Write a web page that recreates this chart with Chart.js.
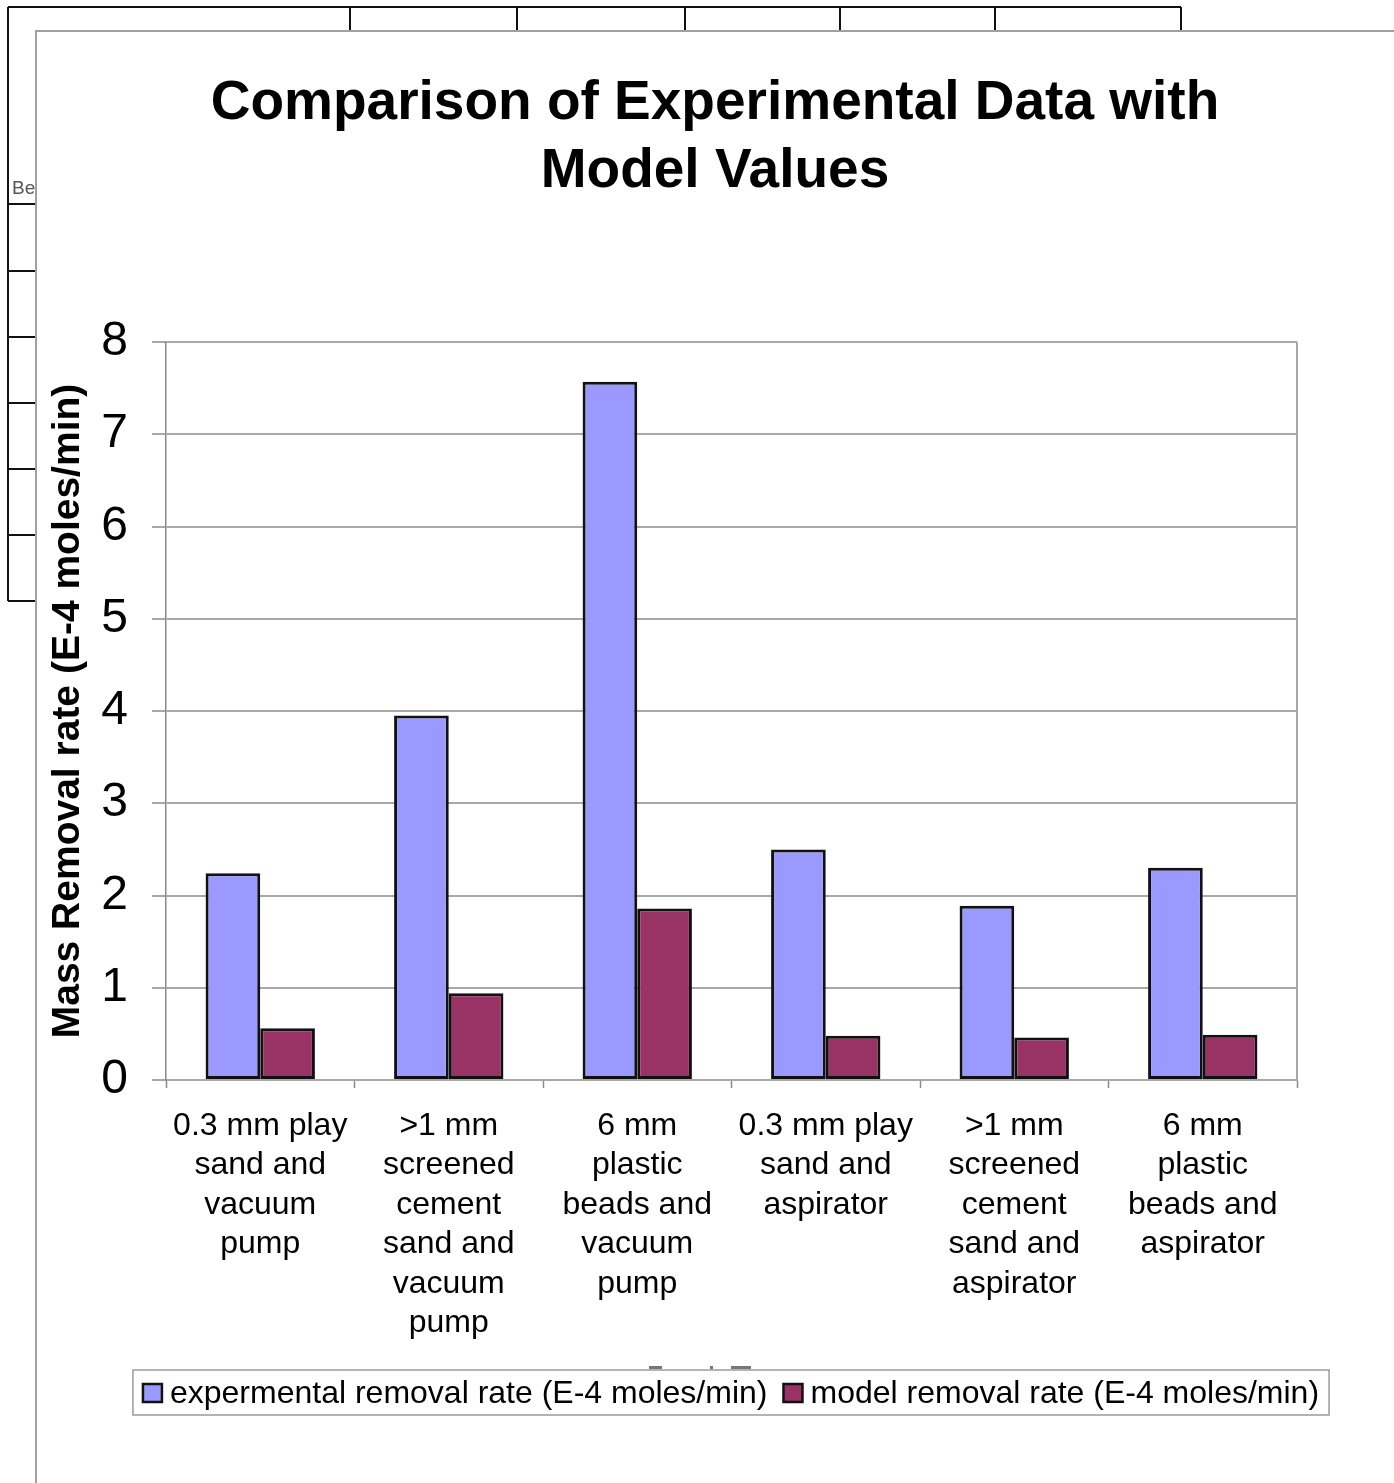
<!DOCTYPE html>
<html>
<head>
<meta charset="utf-8">
<script src="https://cdn.jsdelivr.net/npm/chart.js@4.4.1/dist/chart.umd.min.js"></script>
<style>
  html, body { margin: 0; padding: 0; background: #fff; overflow: hidden; }
  #wrap { position: absolute; left: 0; top: 0; width: 1394px; height: 1483px; }
</style>
</head>
<body>
<div id="wrap"><canvas id="c" width="1394" height="1483"></canvas></div>
<script>
// Category labels (one line per array entry)
const categories = [
  ['0.3 mm play', 'sand and', 'vacuum', 'pump'],
  ['>1 mm', 'screened', 'cement', 'sand and', 'vacuum', 'pump'],
  ['6 mm', 'plastic', 'beads and', 'vacuum', 'pump'],
  ['0.3 mm play', 'sand and', 'aspirator'],
  ['>1 mm', 'screened', 'cement', 'sand and', 'aspirator'],
  ['6 mm', 'plastic', 'beads and', 'aspirator']
];
// Removal rates, E-4 moles/min
const experimentalRate = [2.24, 3.95, 7.57, 2.50, 1.89, 2.30];
const modelRate = [0.56, 0.94, 1.86, 0.48, 0.46, 0.49];
const yTickValues = [0, 1, 2, 3, 4, 5, 6, 7, 8];
const titleLines = ['Comparison of Experimental Data with', 'Model Values'];
const seriesNames = ['expermental removal rate (E-4 moles/min)', 'model removal rate (E-4 moles/min)'];
const yTitle = 'Mass Removal rate (E-4 moles/min)';

const FONT = '"Liberation Sans", Arial, Helvetica, sans-serif';
const EXP_COLOR = '#9999FF';
const MODEL_COLOR = '#993366';
const GRID = '#a8a8a8';
const AXIS = '#8a8a8a';

// Worksheet cells behind the chart object, and the chart object frame
const sheetBackdrop = {
  id: 'sheetBackdrop',
  beforeDraw(chart) {
    const ctx = chart.ctx;
    ctx.save();
    ctx.fillStyle = '#fff';
    ctx.fillRect(0, 0, chart.width, chart.height);
    ctx.strokeStyle = '#111';
    ctx.lineWidth = 2;
    ctx.beginPath();
    ctx.moveTo(8, 7); ctx.lineTo(1181, 7);
    ctx.moveTo(8, 7); ctx.lineTo(8, 601);
    [350, 517, 685, 840, 995, 1181].forEach(x => { ctx.moveTo(x, 7); ctx.lineTo(x, 31); });
    [204, 271, 337, 403, 469, 535, 601].forEach(y => { ctx.moveTo(8, y); ctx.lineTo(36, y); });
    ctx.stroke();
    ctx.fillStyle = '#555';
    ctx.font = '19px ' + FONT;
    ctx.textBaseline = 'middle';
    ctx.fillText('Be', 12, 189);
    // chart object
    ctx.fillStyle = '#fff';
    ctx.fillRect(36, 31, chart.width, chart.height);
    ctx.strokeStyle = '#a0a0a0';
    ctx.lineWidth = 2;
    ctx.beginPath();
    ctx.moveTo(36, chart.height); ctx.lineTo(36, 31); ctx.lineTo(chart.width, 31);
    ctx.stroke();
    // fragments of a worksheet caption peeking above the legend
    ctx.fillStyle = '#777';
    ctx.fillRect(649, 1366, 13, 3);
    ctx.fillRect(710, 1366, 3, 3);
    ctx.fillRect(731, 1366, 20, 3);
    ctx.restore();
  },
  beforeDatasetsDraw(chart) {
    const {ctx, chartArea} = chart;
    ctx.save();
    ctx.strokeStyle = GRID;
    ctx.lineWidth = 2;
    ctx.beginPath();
    ctx.moveTo(chartArea.right, chartArea.top);
    ctx.lineTo(chartArea.right, chartArea.bottom);
    ctx.stroke();
    ctx.restore();
  }
};

// Two-line heading and boxed legend
const headingAndKey = {
  id: 'headingAndKey',
  afterDraw(chart) {
    const ctx = chart.ctx;
    ctx.save();
    ctx.fillStyle = '#000';
    ctx.font = 'bold 55px ' + FONT;
    ctx.textAlign = 'center';
    ctx.textBaseline = 'middle';
    ctx.fillText(titleLines[0], 715, 104);
    ctx.fillText(titleLines[1], 715, 172);

    // legend
    ctx.font = '32px ' + FONT;
    ctx.textAlign = 'left';
    const sw = 19, gap = 8, between = 16, padX = 10;
    const items = chart.data.datasets.map(ds => ({
      label: ds.label, color: ds.backgroundColor, w: ctx.measureText(ds.label).width
    }));
    let total = 0;
    items.forEach((it, i) => { total += sw + gap + it.w + (i ? between : 0); });
    const cx = 731, cy = 1393;
    let x = cx - total / 2;
    ctx.strokeStyle = '#9a9a9a';
    ctx.lineWidth = 1.5;
    ctx.fillStyle = '#fff';
    ctx.fillRect(x - padX, 1370, total + padX * 2, 45);
    ctx.strokeRect(x - padX, 1370, total + padX * 2, 45);
    items.forEach((it, i) => {
      if (i) x += between;
      ctx.fillStyle = it.color;
      ctx.fillRect(x, cy - 9, sw, 18);
      ctx.strokeStyle = '#111';
      ctx.lineWidth = 2.5;
      ctx.strokeRect(x, cy - 9, sw, 18);
      x += sw + gap;
      ctx.fillStyle = '#000';
      ctx.fillText(it.label, x, cy + 1);
      x += it.w;
    });
    ctx.restore();
  }
};

new Chart(document.getElementById('c'), {
  type: 'bar',
  data: {
    labels: categories,
    datasets: [
      {
        label: seriesNames[0],
        data: experimentalRate,
        backgroundColor: EXP_COLOR,
        borderColor: '#111',
        borderWidth: 3,
        borderSkipped: false
      },
      {
        label: seriesNames[1],
        data: modelRate,
        backgroundColor: MODEL_COLOR,
        borderColor: '#111',
        borderWidth: 3,
        borderSkipped: false
      }
    ]
  },
  options: {
    responsive: false,
    animation: false,
    devicePixelRatio: 1,
    layout: { padding: { top: 342, left: 0, right: 97, bottom: 133 } },
    datasets: { bar: { categoryPercentage: 0.58, barPercentage: 1.0 } },
    plugins: {
      legend: { display: false },
      title: { display: false },
      tooltip: { enabled: false }
    },
    scales: {
      x: {
        type: 'category',
        offset: true,
        afterFit(scale) { scale.height = 270; },
        grid: {
          offset: true,
          drawOnChartArea: false,
          drawTicks: true,
          tickLength: 8,
          tickColor: AXIS,
          tickWidth: 1.5
        },
        border: { display: true, color: GRID, width: 2 },
        ticks: {
          color: '#000',
          font: { family: FONT, size: 32, lineHeight: 1.235 },
          padding: 18,
          maxRotation: 0,
          minRotation: 0,
          autoSkip: false
        }
      },
      y: {
        min: 0,
        max: 8,
        afterFit(scale) { scale.width = 166; },
        afterBuildTicks(scale) { scale.ticks = yTickValues.map(v => ({ value: v })); },
        grid: {
          color: GRID,
          lineWidth: 2,
          drawTicks: true,
          tickLength: 14,
          tickColor: AXIS,
          tickWidth: 1.5
        },
        border: { display: true, color: AXIS, width: 1.5 },
        ticks: {
          color: '#000',
          font: { family: FONT, size: 48 },
          padding: 24
        },
        title: {
          display: true,
          text: yTitle,
          color: '#000',
          font: { family: FONT, size: 39, weight: 'bold' },
          padding: { top: 45, bottom: 0 }
        }
      }
    }
  },
  plugins: [sheetBackdrop, headingAndKey]
});
</script>
</body>
</html>
